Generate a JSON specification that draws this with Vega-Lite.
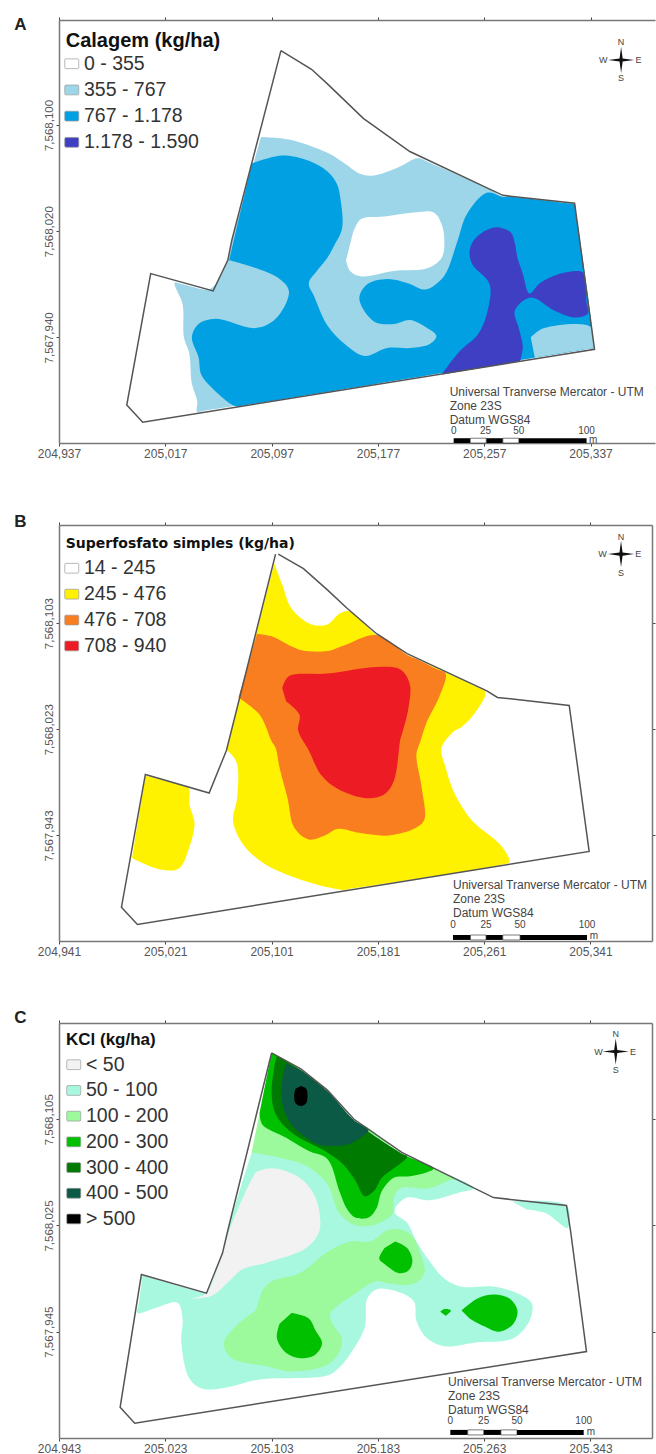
{"$schema":"https://vega.github.io/schema/vega-lite/v6.json","background":"white","padding":{"left":14,"top":16,"right":0,"bottom":0},"bounds":"flush","spacing":82,
"resolve":{"scale":{"fill":"independent"},"legend":{"fill":"independent"}},
"config":{"font":"Liberation Sans","view":{"stroke":null},"axis":{"grid":false,"title":null,"domainColor":"#777","domainWidth":1.5,"tickColor":"#444","tickSize":3,"labelColor":"#555","labelFontSize":12,"labelOverlap":false,"labelFlush":false}},
"datasets":{
"a_edge":[{"x":205104,"y":7568156},{"x":205127,"y":7568142},{"x":205139,"y":7568131},{"x":205166,"y":7568105},{"x":205201,"y":7568080},{"x":205271,"y":7568047},{"x":205325,"y":7568041},{"x":205340,"y":7567931},{"x":205000,"y":7567876},{"x":204988,"y":7567889},{"x":205006,"y":7567988},{"x":205053,"y":7567975},{"x":205064,"y":7567998},{"x":205067,"y":7568013},{"x":205104,"y":7568156}],
"a_zones":[
{"c":"355 - 767","p":2,"x":205089,"y":7568091},{"c":"355 - 767","p":2,"x":205110,"y":7568089},{"c":"355 - 767","p":2,"x":205139,"y":7568079},{"c":"355 - 767","p":2,"x":205152,"y":7568071},{"c":"355 - 767","p":2,"x":205164,"y":7568063},{"c":"355 - 767","p":2,"x":205174,"y":7568062},{"c":"355 - 767","p":2,"x":205192,"y":7568068},{"c":"355 - 767","p":2,"x":205207,"y":7568075},{"c":"355 - 767","p":2,"x":205215,"y":7568072},{"c":"355 - 767","p":2,"x":205262,"y":7568051},{"c":"355 - 767","p":2,"x":205271,"y":7568046},{"c":"355 - 767","p":2,"x":205300,"y":7568043},{"c":"355 - 767","p":2,"x":205320,"y":7568041},{"c":"355 - 767","p":2,"x":205325,"y":7568040},{"c":"355 - 767","p":2,"x":205326,"y":7568034},{"c":"355 - 767","p":2,"x":205339,"y":7567938},{"c":"355 - 767","p":2,"x":205339,"y":7567932},{"c":"355 - 767","p":2,"x":205333,"y":7567931},{"c":"355 - 767","p":2,"x":205048,"y":7567885},{"c":"355 - 767","p":2,"x":205041,"y":7567884},{"c":"355 - 767","p":2,"x":205041,"y":7567892},{"c":"355 - 767","p":2,"x":205037,"y":7567905},{"c":"355 - 767","p":2,"x":205035,"y":7567928},{"c":"355 - 767","p":2,"x":205031,"y":7567940},{"c":"355 - 767","p":2,"x":205030,"y":7567965},{"c":"355 - 767","p":2,"x":205024,"y":7567981},{"c":"355 - 767","p":2,"x":205030,"y":7567980},{"c":"355 - 767","p":2,"x":205049,"y":7567976},{"c":"355 - 767","p":2,"x":205054,"y":7567979},{"c":"355 - 767","p":2,"x":205064,"y":7567998},{"c":"355 - 767","p":2,"x":205067,"y":7568013},
{"c":"767 - 1.178","p":3,"x":205082,"y":7568071},{"c":"767 - 1.178","p":3,"x":205105,"y":7568077},{"c":"767 - 1.178","p":3,"x":205125,"y":7568073},{"c":"767 - 1.178","p":3,"x":205139,"y":7568065},{"c":"767 - 1.178","p":3,"x":205146,"y":7568056},{"c":"767 - 1.178","p":3,"x":205149,"y":7568043},{"c":"767 - 1.178","p":3,"x":205150,"y":7568022},{"c":"767 - 1.178","p":3,"x":205144,"y":7568009},{"c":"767 - 1.178","p":3,"x":205139,"y":7568000},{"c":"767 - 1.178","p":3,"x":205131,"y":7567990},{"c":"767 - 1.178","p":3,"x":205125,"y":7567981},{"c":"767 - 1.178","p":3,"x":205129,"y":7567971},{"c":"767 - 1.178","p":3,"x":205139,"y":7567949},{"c":"767 - 1.178","p":3,"x":205152,"y":7567935},{"c":"767 - 1.178","p":3,"x":205167,"y":7567926},{"c":"767 - 1.178","p":3,"x":205184,"y":7567932},{"c":"767 - 1.178","p":3,"x":205201,"y":7567932},{"c":"767 - 1.178","p":3,"x":205216,"y":7567935},{"c":"767 - 1.178","p":3,"x":205221,"y":7567941},{"c":"767 - 1.178","p":3,"x":205214,"y":7567947},{"c":"767 - 1.178","p":3,"x":205201,"y":7567953},{"c":"767 - 1.178","p":3,"x":205189,"y":7567950},{"c":"767 - 1.178","p":3,"x":205174,"y":7567952},{"c":"767 - 1.178","p":3,"x":205163,"y":7567969},{"c":"767 - 1.178","p":3,"x":205169,"y":7567980},{"c":"767 - 1.178","p":3,"x":205184,"y":7567984},{"c":"767 - 1.178","p":3,"x":205199,"y":7567981},{"c":"767 - 1.178","p":3,"x":205213,"y":7567976},{"c":"767 - 1.178","p":3,"x":205224,"y":7567983},{"c":"767 - 1.178","p":3,"x":205229,"y":7567990},{"c":"767 - 1.178","p":3,"x":205237,"y":7568013},{"c":"767 - 1.178","p":3,"x":205244,"y":7568033},{"c":"767 - 1.178","p":3,"x":205259,"y":7568049},{"c":"767 - 1.178","p":3,"x":205271,"y":7568046},{"c":"767 - 1.178","p":3,"x":205277,"y":7568046},{"c":"767 - 1.178","p":3,"x":205319,"y":7568041},{"c":"767 - 1.178","p":3,"x":205325,"y":7568040},{"c":"767 - 1.178","p":3,"x":205326,"y":7568034},{"c":"767 - 1.178","p":3,"x":205339,"y":7567938},{"c":"767 - 1.178","p":3,"x":205339,"y":7567932},{"c":"767 - 1.178","p":3,"x":205333,"y":7567931},{"c":"767 - 1.178","p":3,"x":205078,"y":7567889},{"c":"767 - 1.178","p":3,"x":205070,"y":7567888},{"c":"767 - 1.178","p":3,"x":205052,"y":7567902},{"c":"767 - 1.178","p":3,"x":205044,"y":7567912},{"c":"767 - 1.178","p":3,"x":205042,"y":7567925},{"c":"767 - 1.178","p":3,"x":205037,"y":7567940},{"c":"767 - 1.178","p":3,"x":205042,"y":7567950},{"c":"767 - 1.178","p":3,"x":205055,"y":7567954},{"c":"767 - 1.178","p":3,"x":205085,"y":7567947},{"c":"767 - 1.178","p":3,"x":205100,"y":7567954},{"c":"767 - 1.178","p":3,"x":205110,"y":7567975},{"c":"767 - 1.178","p":3,"x":205100,"y":7567986},{"c":"767 - 1.178","p":3,"x":205065,"y":7567998},
{"c":"0 - 355","p":4,"x":205158,"y":7568018},{"c":"0 - 355","p":4,"x":205164,"y":7568029},{"c":"0 - 355","p":4,"x":205182,"y":7568031},{"c":"0 - 355","p":4,"x":205204,"y":7568034},{"c":"0 - 355","p":4,"x":205219,"y":7568034},{"c":"0 - 355","p":4,"x":205225,"y":7568025},{"c":"0 - 355","p":4,"x":205227,"y":7568013},{"c":"0 - 355","p":4,"x":205225,"y":7568000},{"c":"0 - 355","p":4,"x":205214,"y":7567992},{"c":"0 - 355","p":4,"x":205189,"y":7567990},{"c":"0 - 355","p":4,"x":205164,"y":7567986},{"c":"0 - 355","p":4,"x":205156,"y":7567990},{"c":"0 - 355","p":4,"x":205153,"y":7567998},
{"c":"355 - 767","p":5,"x":205292,"y":7567940},{"c":"355 - 767","p":5,"x":205302,"y":7567947},{"c":"355 - 767","p":5,"x":205337,"y":7567948},{"c":"355 - 767","p":5,"x":205339,"y":7567937},{"c":"355 - 767","p":5,"x":205339,"y":7567932},{"c":"355 - 767","p":5,"x":205333,"y":7567931},{"c":"355 - 767","p":5,"x":205302,"y":7567926},{"c":"355 - 767","p":5,"x":205295,"y":7567925},
{"c":"1.178 - 1.590","p":6,"x":205225,"y":7567912},{"c":"1.178 - 1.590","p":6,"x":205239,"y":7567930},{"c":"1.178 - 1.590","p":6,"x":205252,"y":7567942},{"c":"1.178 - 1.590","p":6,"x":205259,"y":7567958},{"c":"1.178 - 1.590","p":6,"x":205261,"y":7567980},{"c":"1.178 - 1.590","p":6,"x":205248,"y":7567995},{"c":"1.178 - 1.590","p":6,"x":205246,"y":7568005},{"c":"1.178 - 1.590","p":6,"x":205249,"y":7568013},{"c":"1.178 - 1.590","p":6,"x":205257,"y":7568020},{"c":"1.178 - 1.590","p":6,"x":205267,"y":7568023},{"c":"1.178 - 1.590","p":6,"x":205277,"y":7568019},{"c":"1.178 - 1.590","p":6,"x":205280,"y":7568011},{"c":"1.178 - 1.590","p":6,"x":205282,"y":7568000},{"c":"1.178 - 1.590","p":6,"x":205286,"y":7567988},{"c":"1.178 - 1.590","p":6,"x":205291,"y":7567973},{"c":"1.178 - 1.590","p":6,"x":205299,"y":7567981},{"c":"1.178 - 1.590","p":6,"x":205314,"y":7567988},{"c":"1.178 - 1.590","p":6,"x":205331,"y":7567989},{"c":"1.178 - 1.590","p":6,"x":205333,"y":7567980},{"c":"1.178 - 1.590","p":6,"x":205334,"y":7567966},{"c":"1.178 - 1.590","p":6,"x":205335,"y":7567958},{"c":"1.178 - 1.590","p":6,"x":205325,"y":7567955},{"c":"1.178 - 1.590","p":6,"x":205310,"y":7567960},{"c":"1.178 - 1.590","p":6,"x":205292,"y":7567970},{"c":"1.178 - 1.590","p":6,"x":205280,"y":7567960},{"c":"1.178 - 1.590","p":6,"x":205283,"y":7567947},{"c":"1.178 - 1.590","p":6,"x":205286,"y":7567933},{"c":"1.178 - 1.590","p":6,"x":205284,"y":7567922}
],
"a_letter":[{"t":"A","x":204908,"y":7568175}],
"a_note":[{"t":"Universal Tranverse Mercator - UTM","x":205231,"y":7567899},{"t":"Zone 23S","x":205231,"y":7567888},{"t":"Datum WGS84","x":205231,"y":7567878}],
"a_bar_k":[{"x":205234,"x2":205246.5,"y":7567864,"y2":7567860.4},{"x":205258.5,"x2":205271,"y":7567864,"y2":7567860.4},{"x":205283,"x2":205334,"y":7567864,"y2":7567860.4}],
"a_bar_w":[{"x":205246.5,"x2":205258.5,"y":7567864,"y2":7567860.4},{"x":205271,"x2":205283,"y":7567864,"y2":7567860.4}],
"a_scale":[{"t":"0","x":205234,"y":7567869.5},{"t":"25","x":205258,"y":7567869.5},{"t":"50","x":205283,"y":7567869.5},{"t":"100","x":205334,"y":7567869.5},{"t":"m","x":205339,"y":7567863}],
"a_rose":[{"x":205360,"y":7568149}],
"a_dirs":[{"t":"N","x":205360,"y":7568162.5},{"t":"S","x":205360,"y":7568135.4},{"t":"W","x":205346.6,"y":7568149},{"t":"E","x":205373,"y":7568149}],
"b_edge":[{"x":205106,"y":7568155},{"x":205125,"y":7568144},{"x":205143,"y":7568128},{"x":205158,"y":7568114},{"x":205180,"y":7568095},{"x":205203,"y":7568080},{"x":205263,"y":7568052},{"x":205271,"y":7568047},{"x":205325,"y":7568041},{"x":205340,"y":7567931},{"x":205000,"y":7567876},{"x":204988,"y":7567889},{"x":205006,"y":7567989},{"x":205054,"y":7567975},{"x":205067,"y":7568007},{"x":205104,"y":7568155}],
"b_zones":[
{"c":"245 - 476","p":2,"x":205103,"y":7568148},{"c":"245 - 476","p":2,"x":205109,"y":7568132},{"c":"245 - 476","p":2,"x":205116,"y":7568114},{"c":"245 - 476","p":2,"x":205131,"y":7568102},{"c":"245 - 476","p":2,"x":205143,"y":7568102},{"c":"245 - 476","p":2,"x":205152,"y":7568110},{"c":"245 - 476","p":2,"x":205159,"y":7568112},{"c":"245 - 476","p":2,"x":205180,"y":7568094},{"c":"245 - 476","p":2,"x":205203,"y":7568079},{"c":"245 - 476","p":2,"x":205210,"y":7568076},{"c":"245 - 476","p":2,"x":205255,"y":7568055},{"c":"245 - 476","p":2,"x":205262,"y":7568051},{"c":"245 - 476","p":2,"x":205253,"y":7568034},{"c":"245 - 476","p":2,"x":205243,"y":7568024},{"c":"245 - 476","p":2,"x":205239,"y":7568022},{"c":"245 - 476","p":2,"x":205229,"y":7568009},{"c":"245 - 476","p":2,"x":205232,"y":7567994},{"c":"245 - 476","p":2,"x":205239,"y":7567974},{"c":"245 - 476","p":2,"x":205252,"y":7567954},{"c":"245 - 476","p":2,"x":205274,"y":7567935},{"c":"245 - 476","p":2,"x":205280,"y":7567923},{"c":"245 - 476","p":2,"x":205274,"y":7567921},{"c":"245 - 476","p":2,"x":205161,"y":7567903},{"c":"245 - 476","p":2,"x":205155,"y":7567902},{"c":"245 - 476","p":2,"x":205122,"y":7567910},{"c":"245 - 476","p":2,"x":205095,"y":7567922},{"c":"245 - 476","p":2,"x":205079,"y":7567937},{"c":"245 - 476","p":2,"x":205072,"y":7567954},{"c":"245 - 476","p":2,"x":205075,"y":7567971},{"c":"245 - 476","p":2,"x":205075,"y":7567997},{"c":"245 - 476","p":2,"x":205070,"y":7568005},{"c":"245 - 476","p":2,"x":205067,"y":7568007},
{"c":"245 - 476","p":3,"x":205006,"y":7567988},{"c":"245 - 476","p":3,"x":205010,"y":7567987},{"c":"245 - 476","p":3,"x":205035,"y":7567980},{"c":"245 - 476","p":3,"x":205039,"y":7567978},{"c":"245 - 476","p":3,"x":205039,"y":7567967},{"c":"245 - 476","p":3,"x":205043,"y":7567952},{"c":"245 - 476","p":3,"x":205039,"y":7567934},{"c":"245 - 476","p":3,"x":205031,"y":7567918},{"c":"245 - 476","p":3,"x":205015,"y":7567918},{"c":"245 - 476","p":3,"x":204996,"y":7567926},
{"c":"476 - 708","p":4,"x":205090,"y":7568095},{"c":"476 - 708","p":4,"x":205101,"y":7568093},{"c":"476 - 708","p":4,"x":205122,"y":7568083},{"c":"476 - 708","p":4,"x":205143,"y":7568082},{"c":"476 - 708","p":4,"x":205155,"y":7568086},{"c":"476 - 708","p":4,"x":205180,"y":7568094},{"c":"476 - 708","p":4,"x":205203,"y":7568079},{"c":"476 - 708","p":4,"x":205210,"y":7568076},{"c":"476 - 708","p":4,"x":205226,"y":7568068},{"c":"476 - 708","p":4,"x":205232,"y":7568065},{"c":"476 - 708","p":4,"x":205227,"y":7568047},{"c":"476 - 708","p":4,"x":205218,"y":7568029},{"c":"476 - 708","p":4,"x":205213,"y":7568014},{"c":"476 - 708","p":4,"x":205210,"y":7568004},{"c":"476 - 708","p":4,"x":205214,"y":7567979},{"c":"476 - 708","p":4,"x":205216,"y":7567955},{"c":"476 - 708","p":4,"x":205210,"y":7567949},{"c":"476 - 708","p":4,"x":205189,"y":7567943},{"c":"476 - 708","p":4,"x":205167,"y":7567945},{"c":"476 - 708","p":4,"x":205151,"y":7567948},{"c":"476 - 708","p":4,"x":205141,"y":7567943},{"c":"476 - 708","p":4,"x":205129,"y":7567940},{"c":"476 - 708","p":4,"x":205118,"y":7567949},{"c":"476 - 708","p":4,"x":205113,"y":7567971},{"c":"476 - 708","p":4,"x":205107,"y":7567994},{"c":"476 - 708","p":4,"x":205104,"y":7568009},{"c":"476 - 708","p":4,"x":205101,"y":7568014},{"c":"476 - 708","p":4,"x":205092,"y":7568034},{"c":"476 - 708","p":4,"x":205076,"y":7568047},
{"c":"708 - 940","p":5,"x":205109,"y":7568054},{"c":"708 - 940","p":5,"x":205114,"y":7568063},{"c":"708 - 940","p":5,"x":205143,"y":7568065},{"c":"708 - 940","p":5,"x":205180,"y":7568070},{"c":"708 - 940","p":5,"x":205198,"y":7568068},{"c":"708 - 940","p":5,"x":205205,"y":7568057},{"c":"708 - 940","p":5,"x":205204,"y":7568039},{"c":"708 - 940","p":5,"x":205199,"y":7568019},{"c":"708 - 940","p":5,"x":205198,"y":7568016},{"c":"708 - 940","p":5,"x":205193,"y":7567984},{"c":"708 - 940","p":5,"x":205186,"y":7567974},{"c":"708 - 940","p":5,"x":205173,"y":7567971},{"c":"708 - 940","p":5,"x":205151,"y":7567978},{"c":"708 - 940","p":5,"x":205138,"y":7567989},{"c":"708 - 940","p":5,"x":205129,"y":7568007},{"c":"708 - 940","p":5,"x":205121,"y":7568022},{"c":"708 - 940","p":5,"x":205122,"y":7568034},{"c":"708 - 940","p":5,"x":205112,"y":7568044}
],
"b_letter":[{"t":"B","x":204912,"y":7568179}],
"b_note":[{"t":"Universal Tranverse Mercator - UTM","x":205237.5,"y":7567905.7},{"t":"Zone 23S","x":205237.5,"y":7567895},{"t":"Datum WGS84","x":205237.5,"y":7567884.6}],
"b_bar_k":[{"x":205237.5,"x2":205250.7,"y":7567868,"y2":7567864.3},{"x":205262.4,"x2":205275,"y":7567868,"y2":7567864.3},{"x":205288,"x2":205338.4,"y":7567868,"y2":7567864.3}],
"b_bar_w":[{"x":205250.7,"x2":205262.4,"y":7567868,"y2":7567864.3},{"x":205275,"x2":205288,"y":7567868,"y2":7567864.3}],
"b_scale":[{"t":"0","x":205237.5,"y":7567875.6},{"t":"25","x":205262.4,"y":7567875.6},{"t":"50","x":205288,"y":7567875.6},{"t":"100","x":205338.4,"y":7567875.6},{"t":"m","x":205343.6,"y":7567867.2}],
"b_rose":[{"x":205364,"y":7568155}],
"b_dirs":[{"t":"N","x":205364,"y":7568168},{"t":"S","x":205364,"y":7568141},{"t":"W","x":205350,"y":7568155},{"t":"E","x":205377,"y":7568155}],
"c_edge":[{"x":205103,"y":7568155},{"x":205125,"y":7568143},{"x":205145,"y":7568127},{"x":205165,"y":7568105},{"x":205201,"y":7568080},{"x":205270,"y":7568046},{"x":205325,"y":7568040},{"x":205328,"y":7568021},{"x":205340,"y":7567930},{"x":205000,"y":7567876},{"x":204989,"y":7567888},{"x":205005,"y":7567988},{"x":205054,"y":7567974},{"x":205066,"y":7568004},{"x":205070,"y":7568021},{"x":205103,"y":7568155}],
"c_zones":[
{"c":"50 - 100","p":1,"x":205088,"y":7568080},{"c":"50 - 100","p":1,"x":205070,"y":7568021},{"c":"50 - 100","p":1,"x":205066,"y":7568004},{"c":"50 - 100","p":1,"x":205054,"y":7567975},{"c":"50 - 100","p":1,"x":205050,"y":7567975},{"c":"50 - 100","p":1,"x":205010,"y":7567986},{"c":"50 - 100","p":1,"x":205006,"y":7567987},{"c":"50 - 100","p":1,"x":205005,"y":7567980},{"c":"50 - 100","p":1,"x":205003,"y":7567966},{"c":"50 - 100","p":1,"x":205002,"y":7567959},{"c":"50 - 100","p":1,"x":205016,"y":7567963},{"c":"50 - 100","p":1,"x":205032,"y":7567967},{"c":"50 - 100","p":1,"x":205036,"y":7567955},{"c":"50 - 100","p":1,"x":205035,"y":7567938},{"c":"50 - 100","p":1,"x":205041,"y":7567910},{"c":"50 - 100","p":1,"x":205051,"y":7567902},{"c":"50 - 100","p":1,"x":205069,"y":7567903},{"c":"50 - 100","p":1,"x":205094,"y":7567909},{"c":"50 - 100","p":1,"x":205145,"y":7567912},{"c":"50 - 100","p":1,"x":205154,"y":7567918},{"c":"50 - 100","p":1,"x":205162,"y":7567928},{"c":"50 - 100","p":1,"x":205173,"y":7567948},{"c":"50 - 100","p":1,"x":205175,"y":7567970},{"c":"50 - 100","p":1,"x":205182,"y":7567977},{"c":"50 - 100","p":1,"x":205195,"y":7567976},{"c":"50 - 100","p":1,"x":205210,"y":7567968},{"c":"50 - 100","p":1,"x":205212,"y":7567953},{"c":"50 - 100","p":1,"x":205220,"y":7567940},{"c":"50 - 100","p":1,"x":205233,"y":7567934},{"c":"50 - 100","p":1,"x":205258,"y":7567937},{"c":"50 - 100","p":1,"x":205285,"y":7567940},{"c":"50 - 100","p":1,"x":205297,"y":7567953},{"c":"50 - 100","p":1,"x":205299,"y":7567966},{"c":"50 - 100","p":1,"x":205290,"y":7567973},{"c":"50 - 100","p":1,"x":205270,"y":7567979},{"c":"50 - 100","p":1,"x":205245,"y":7567979},{"c":"50 - 100","p":1,"x":205233,"y":7567985},{"c":"50 - 100","p":1,"x":205222,"y":7567998},{"c":"50 - 100","p":1,"x":205212,"y":7568013},{"c":"50 - 100","p":1,"x":205205,"y":7568027},{"c":"50 - 100","p":1,"x":205196,"y":7568034},{"c":"50 - 100","p":1,"x":205196,"y":7568038},{"c":"50 - 100","p":1,"x":205205,"y":7568046},{"c":"50 - 100","p":1,"x":205222,"y":7568044},{"c":"50 - 100","p":1,"x":205245,"y":7568050},{"c":"50 - 100","p":1,"x":205255,"y":7568053},{"c":"50 - 100","p":1,"x":205201,"y":7568079},{"c":"50 - 100","p":1,"x":205165,"y":7568104},
{"c":"50 - 100","p":2,"x":205284,"y":7568043},{"c":"50 - 100","p":2,"x":205325,"y":7568040},{"c":"50 - 100","p":2,"x":205326,"y":7568023},{"c":"50 - 100","p":2,"x":205318,"y":7568028},{"c":"50 - 100","p":2,"x":205310,"y":7568034},{"c":"50 - 100","p":2,"x":205295,"y":7568037},
{"c":"< 50","p":3,"x":205091,"y":7568065},{"c":"< 50","p":3,"x":205103,"y":7568068},{"c":"< 50","p":3,"x":205124,"y":7568061},{"c":"< 50","p":3,"x":205136,"y":7568046},{"c":"< 50","p":3,"x":205139,"y":7568021},{"c":"< 50","p":3,"x":205129,"y":7568008},{"c":"< 50","p":3,"x":205099,"y":7567997},{"c":"< 50","p":3,"x":205081,"y":7567992},{"c":"< 50","p":3,"x":205071,"y":7567983},{"c":"< 50","p":3,"x":205058,"y":7567972},{"c":"< 50","p":3,"x":205043,"y":7567970},{"c":"< 50","p":3,"x":205054,"y":7567974},{"c":"< 50","p":3,"x":205066,"y":7568004},{"c":"< 50","p":3,"x":205071,"y":7568021},{"c":"< 50","p":3,"x":205078,"y":7568038},{"c":"< 50","p":3,"x":205086,"y":7568056},
{"c":"100 - 200","p":4,"x":205096,"y":7567976},{"c":"100 - 200","p":4,"x":205103,"y":7567983},{"c":"100 - 200","p":4,"x":205124,"y":7567989},{"c":"100 - 200","p":4,"x":205145,"y":7568005},{"c":"100 - 200","p":4,"x":205162,"y":7568013},{"c":"100 - 200","p":4,"x":205177,"y":7568013},{"c":"100 - 200","p":4,"x":205192,"y":7568022},{"c":"100 - 200","p":4,"x":205207,"y":7568019},{"c":"100 - 200","p":4,"x":205216,"y":7568001},{"c":"100 - 200","p":4,"x":205218,"y":7567989},{"c":"100 - 200","p":4,"x":205210,"y":7567981},{"c":"100 - 200","p":4,"x":205192,"y":7567981},{"c":"100 - 200","p":4,"x":205182,"y":7567983},{"c":"100 - 200","p":4,"x":205165,"y":7567973},{"c":"100 - 200","p":4,"x":205147,"y":7567958},{"c":"100 - 200","p":4,"x":205150,"y":7567949},{"c":"100 - 200","p":4,"x":205156,"y":7567940},{"c":"100 - 200","p":4,"x":205154,"y":7567930},{"c":"100 - 200","p":4,"x":205145,"y":7567920},{"c":"100 - 200","p":4,"x":205118,"y":7567915},{"c":"100 - 200","p":4,"x":205099,"y":7567919},{"c":"100 - 200","p":4,"x":205073,"y":7567925},{"c":"100 - 200","p":4,"x":205067,"y":7567936},{"c":"100 - 200","p":4,"x":205076,"y":7567949},{"c":"100 - 200","p":4,"x":205091,"y":7567961},
{"c":"100 - 200","p":5,"x":205094,"y":7568110},{"c":"100 - 200","p":5,"x":205165,"y":7568104},{"c":"100 - 200","p":5,"x":205201,"y":7568079},{"c":"100 - 200","p":5,"x":205241,"y":7568060},{"c":"100 - 200","p":5,"x":205237,"y":7568059},{"c":"100 - 200","p":5,"x":205222,"y":7568053},{"c":"100 - 200","p":5,"x":205200,"y":7568053},{"c":"100 - 200","p":5,"x":205195,"y":7568046},{"c":"100 - 200","p":5,"x":205194,"y":7568034},{"c":"100 - 200","p":5,"x":205182,"y":7568026},{"c":"100 - 200","p":5,"x":205167,"y":7568025},{"c":"100 - 200","p":5,"x":205154,"y":7568034},{"c":"100 - 200","p":5,"x":205145,"y":7568056},{"c":"100 - 200","p":5,"x":205129,"y":7568070},{"c":"100 - 200","p":5,"x":205109,"y":7568076},{"c":"100 - 200","p":5,"x":205088,"y":7568080},
{"c":"200 - 300","p":6,"x":205103,"y":7568155},{"c":"200 - 300","p":6,"x":205125,"y":7568142},{"c":"200 - 300","p":6,"x":205145,"y":7568126},{"c":"200 - 300","p":6,"x":205165,"y":7568104},{"c":"200 - 300","p":6,"x":205201,"y":7568079},{"c":"200 - 300","p":6,"x":205225,"y":7568068},{"c":"200 - 300","p":6,"x":205220,"y":7568065},{"c":"200 - 300","p":6,"x":205207,"y":7568062},{"c":"200 - 300","p":6,"x":205195,"y":7568061},{"c":"200 - 300","p":6,"x":205186,"y":7568051},{"c":"200 - 300","p":6,"x":205182,"y":7568038},{"c":"200 - 300","p":6,"x":205176,"y":7568031},{"c":"200 - 300","p":6,"x":205166,"y":7568031},{"c":"200 - 300","p":6,"x":205160,"y":7568037},{"c":"200 - 300","p":6,"x":205154,"y":7568051},{"c":"200 - 300","p":6,"x":205145,"y":7568075},{"c":"200 - 300","p":6,"x":205131,"y":7568081},{"c":"200 - 300","p":6,"x":205114,"y":7568091},{"c":"200 - 300","p":6,"x":205096,"y":7568101},{"c":"200 - 300","p":6,"x":205094,"y":7568110},
{"c":"200 - 300","p":7,"x":205118,"y":7567959},{"c":"200 - 300","p":7,"x":205131,"y":7567955},{"c":"200 - 300","p":7,"x":205136,"y":7567946},{"c":"200 - 300","p":7,"x":205141,"y":7567936},{"c":"200 - 300","p":7,"x":205135,"y":7567927},{"c":"200 - 300","p":7,"x":205125,"y":7567925},{"c":"200 - 300","p":7,"x":205114,"y":7567929},{"c":"200 - 300","p":7,"x":205107,"y":7567940},{"c":"200 - 300","p":7,"x":205109,"y":7567951},
{"c":"200 - 300","p":8,"x":205196,"y":7568013},{"c":"200 - 300","p":8,"x":205205,"y":7568008},{"c":"200 - 300","p":8,"x":205209,"y":7567998},{"c":"200 - 300","p":8,"x":205206,"y":7567991},{"c":"200 - 300","p":8,"x":205199,"y":7567989},{"c":"200 - 300","p":8,"x":205188,"y":7567996},{"c":"200 - 300","p":8,"x":205184,"y":7568000},{"c":"200 - 300","p":8,"x":205188,"y":7568008},
{"c":"200 - 300","p":9,"x":205246,"y":7567961},{"c":"200 - 300","p":9,"x":205258,"y":7567970},{"c":"200 - 300","p":9,"x":205270,"y":7567973},{"c":"200 - 300","p":9,"x":205282,"y":7567970},{"c":"200 - 300","p":9,"x":205288,"y":7567961},{"c":"200 - 300","p":9,"x":205285,"y":7567951},{"c":"200 - 300","p":9,"x":205274,"y":7567945},{"c":"200 - 300","p":9,"x":205263,"y":7567949},{"c":"200 - 300","p":9,"x":205252,"y":7567955},
{"c":"200 - 300","p":10,"x":205230,"y":7567960},{"c":"200 - 300","p":10,"x":205233,"y":7567962},{"c":"200 - 300","p":10,"x":205238,"y":7567961},{"c":"200 - 300","p":10,"x":205234,"y":7567957},
{"c":"300 - 400","p":11,"x":205107,"y":7568153},{"c":"300 - 400","p":11,"x":205105,"y":7568144},{"c":"300 - 400","p":11,"x":205103,"y":7568124},{"c":"300 - 400","p":11,"x":205106,"y":7568109},{"c":"300 - 400","p":11,"x":205118,"y":7568095},{"c":"300 - 400","p":11,"x":205145,"y":7568080},{"c":"300 - 400","p":11,"x":205157,"y":7568071},{"c":"300 - 400","p":11,"x":205166,"y":7568059},{"c":"300 - 400","p":11,"x":205173,"y":7568047},{"c":"300 - 400","p":11,"x":205180,"y":7568051},{"c":"300 - 400","p":11,"x":205186,"y":7568061},{"c":"300 - 400","p":11,"x":205195,"y":7568068},{"c":"300 - 400","p":11,"x":205205,"y":7568077},{"c":"300 - 400","p":11,"x":205201,"y":7568079},{"c":"300 - 400","p":11,"x":205165,"y":7568104},{"c":"300 - 400","p":11,"x":205145,"y":7568126},{"c":"300 - 400","p":11,"x":205125,"y":7568142},
{"c":"400 - 500","p":12,"x":205114,"y":7568147},{"c":"400 - 500","p":12,"x":205111,"y":7568134},{"c":"400 - 500","p":12,"x":205111,"y":7568117},{"c":"400 - 500","p":12,"x":205118,"y":7568101},{"c":"400 - 500","p":12,"x":205136,"y":7568087},{"c":"400 - 500","p":12,"x":205145,"y":7568085},{"c":"400 - 500","p":12,"x":205160,"y":7568086},{"c":"400 - 500","p":12,"x":205170,"y":7568091},{"c":"400 - 500","p":12,"x":205176,"y":7568097},{"c":"400 - 500","p":12,"x":205165,"y":7568104},{"c":"400 - 500","p":12,"x":205145,"y":7568126},{"c":"400 - 500","p":12,"x":205125,"y":7568142},
{"c":"> 500","p":13,"x":205125,"y":7568130},{"c":"> 500","p":13,"x":205129,"y":7568128},{"c":"> 500","p":13,"x":205130,"y":7568123},{"c":"> 500","p":13,"x":205129,"y":7568117},{"c":"> 500","p":13,"x":205125,"y":7568115},{"c":"> 500","p":13,"x":205121,"y":7568117},{"c":"> 500","p":13,"x":205120,"y":7568123},{"c":"> 500","p":13,"x":205121,"y":7568128}
],
"c_letter":[{"t":"C","x":204914,"y":7568181}],
"c_note":[{"t":"Universal Tranverse  Mercator - UTM","x":205235.8,"y":7567907},{"t":"Zone 23S","x":205235.8,"y":7567896.5},{"t":"Datum WGS84","x":205235.8,"y":7567886}],
"c_bar_k":[{"x":205237.5,"x2":205250.6,"y":7567871,"y2":7567867.2},{"x":205262.6,"x2":205275.6,"y":7567871,"y2":7567867.2},{"x":205287.7,"x2":205337.9,"y":7567871,"y2":7567867.2}],
"c_bar_w":[{"x":205250.6,"x2":205262.6,"y":7567871,"y2":7567867.2},{"x":205275.6,"x2":205287.7,"y":7567871,"y2":7567867.2}],
"c_scale":[{"t":"0","x":205237.5,"y":7567877.7},{"t":"25","x":205262.6,"y":7567877.7},{"t":"50","x":205287.7,"y":7567877.7},{"t":"100","x":205337.9,"y":7567877.7},{"t":"m","x":205343.4,"y":7567869.4}],
"c_rose":[{"x":205362,"y":7568156}],
"c_dirs":[{"t":"N","x":205362,"y":7568169},{"t":"S","x":205362,"y":7568142},{"t":"W","x":205349,"y":7568156},{"t":"E","x":205375,"y":7568156}]
},
"vconcat":[
{"width":596,"height":423,
"encoding":{"x":{"field":"x","type":"quantitative","scale":{"domain":[204937,205385.5],"nice":false,"zero":false},"axis":null},"y":{"field":"y","type":"quantitative","scale":{"domain":[7567860.4,7568179.1],"nice":false,"zero":false},"axis":null}},
"resolve":{"axis":{"x":"independent","y":"independent"}},
"layer":[
{"data":{"name":"a_zones"},"transform":[{"window":[{"op":"row_number","as":"i"}]}],"mark":{"type":"line","strokeWidth":0,"interpolate":"catmull-rom"},
"encoding":{"x":{"field":"x","type":"quantitative","scale":{"domain":[204937,205385.5],"nice":false,"zero":false},"axis":{"orient":"bottom","values":[204937,205017,205097,205177,205257,205337],"format":",d","title":null}},
"y":{"field":"y","type":"quantitative","scale":{"domain":[7567860.4,7568179.1],"nice":false,"zero":false},"axis":{"orient":"left","values":[7567940,7568020,7568100],"format":",d","labelAngle":-90,"labelFontSize":11.5,"title":null}},
"detail":{"field":"p"},"order":{"field":"i","type":"quantitative"},
"fill":{"field":"c","type":"nominal","scale":{"domain":["0 - 355","355 - 767","767 - 1.178","1.178 - 1.590"],"range":["#ffffff","#9dd6e8","#00a0e3","#3f3fc4"]},
"legend":{"orient":"none","legendX":6.7,"legendY":11,"padding":0,"title":"Calagem (kg/ha)","titleFontSize":20,"titleFontWeight":"bold","titleColor":"#111","titleLimit":400,"titlePadding":3,"labelFontSize":19.5,"labelColor":"#333","labelLimit":300,"labelOffset":2.5,"rowPadding":5.2,"symbolOffset":-3.7,"symbolType":"M-0.85,-0.7 L0.85,-0.7 Q1,-0.7 1,-0.5 L1,0.5 Q1,0.7 0.85,0.7 L-0.85,0.7 Q-1,0.7 -1,0.5 L-1,-0.5 Q-1,-0.7 -0.85,-0.7 Z","symbolSize":196,"symbolStrokeColor":"#999","symbolStrokeWidth":0.7}}}},
{"data":{"name":"a_edge"},"transform":[{"window":[{"op":"row_number","as":"i"}]}],"mark":{"type":"line","stroke":"#555","strokeWidth":1.5},
"encoding":{"x":{"field":"x","type":"quantitative","scale":{"domain":[204937,205385.5],"nice":false,"zero":false},"axis":{"orient":"top","values":[204937,205017,205097,205177,205257,205337],"labels":false,"title":null}},"order":{"field":"i","type":"quantitative"}}},
{"data":{"name":"a_bar_k"},"mark":{"type":"rect","color":"black"},"encoding":{"x2":{"field":"x2"},"y2":{"field":"y2"}}},
{"data":{"name":"a_bar_w"},"mark":{"type":"rect","fill":"white","stroke":"#222","strokeWidth":0.6},"encoding":{"x2":{"field":"x2"},"y2":{"field":"y2"}}},
{"data":{"name":"a_letter"},"mark":{"type":"text","fontSize":17,"fontWeight":"bold","color":"#222"},"encoding":{"text":{"field":"t"}}},
{"data":{"name":"a_note"},"mark":{"type":"text","fontSize":12,"color":"#444","align":"left"},"encoding":{"text":{"field":"t"}}},
{"data":{"name":"a_scale"},"mark":{"type":"text","fontSize":10,"color":"#444"},"encoding":{"text":{"field":"t"}}},
{"data":{"name":"a_dirs"},"mark":{"type":"text","fontSize":9,"color":"#444"},"encoding":{"text":{"field":"t"}}},
{"data":{"name":"a_rose"},"mark":{"type":"point","filled":true,"color":"#111","opacity":1,"size":676,"shape":"M0,-1 L0.12,-0.12 L1,0 L0.12,0.12 L0,1 L-0.12,0.12 L-1,0 L-0.12,-0.12 Z"}}
]},
{"width":593,"height":416,
"encoding":{"x":{"field":"x","type":"quantitative","scale":{"domain":[204941,205387.3],"nice":false,"zero":false},"axis":null},"y":{"field":"y","type":"quantitative","scale":{"domain":[7567863.5,7568176.9],"nice":false,"zero":false},"axis":null}},
"resolve":{"axis":{"x":"independent","y":"independent"}},
"layer":[
{"data":{"name":"b_zones"},"transform":[{"window":[{"op":"row_number","as":"i"}]}],"mark":{"type":"line","strokeWidth":0,"interpolate":"catmull-rom"},
"encoding":{"x":{"field":"x","type":"quantitative","scale":{"domain":[204941,205387.3],"nice":false,"zero":false},"axis":{"orient":"bottom","values":[204941,205021,205101,205181,205261,205341],"format":",d","title":null}},
"y":{"field":"y","type":"quantitative","scale":{"domain":[7567863.5,7568176.9],"nice":false,"zero":false},"axis":{"orient":"left","values":[7567943,7568023,7568103],"format":",d","labelAngle":-90,"labelFontSize":11.5,"title":null}},
"detail":{"field":"p"},"order":{"field":"i","type":"quantitative"},
"fill":{"field":"c","type":"nominal","scale":{"domain":["14 - 245","245 - 476","476 - 708","708 - 940"],"range":["#ffffff","#fff200","#f97e20","#ed1c24"]},
"legend":{"orient":"none","legendX":6.7,"legendY":12,"padding":0,"title":"Superfosfato simples (kg/ha)","titleFont":"DejaVu Sans","titleFontSize":14,"titleFontWeight":"bold","titleColor":"#111","titleLimit":400,"titlePadding":7.5,"labelFontSize":19.5,"labelColor":"#333","labelLimit":300,"labelOffset":2.5,"rowPadding":4.9,"symbolOffset":-3.7,"symbolType":"M-0.85,-0.7 L0.85,-0.7 Q1,-0.7 1,-0.5 L1,0.5 Q1,0.7 0.85,0.7 L-0.85,0.7 Q-1,0.7 -1,0.5 L-1,-0.5 Q-1,-0.7 -0.85,-0.7 Z","symbolSize":196,"symbolStrokeColor":"#999","symbolStrokeWidth":0.7}}}},
{"data":{"name":"b_edge"},"transform":[{"window":[{"op":"row_number","as":"i"}]}],"mark":{"type":"line","stroke":"#555","strokeWidth":1.5},
"encoding":{"x":{"field":"x","type":"quantitative","scale":{"domain":[204941,205387.3],"nice":false,"zero":false},"axis":{"orient":"top","values":[204941,205021,205101,205181,205261,205341],"labels":false,"title":null}},
"y":{"field":"y","type":"quantitative","scale":{"domain":[7567863.5,7568176.9],"nice":false,"zero":false},"axis":{"orient":"right","values":[7567943,7568023,7568103],"labels":false,"title":null}},"order":{"field":"i","type":"quantitative"}}},
{"data":{"name":"b_bar_k"},"mark":{"type":"rect","color":"black"},"encoding":{"x2":{"field":"x2"},"y2":{"field":"y2"}}},
{"data":{"name":"b_bar_w"},"mark":{"type":"rect","fill":"white","stroke":"#222","strokeWidth":0.6},"encoding":{"x2":{"field":"x2"},"y2":{"field":"y2"}}},
{"data":{"name":"b_letter"},"mark":{"type":"text","fontSize":17,"fontWeight":"bold","color":"#222"},"encoding":{"text":{"field":"t"}}},
{"data":{"name":"b_note"},"mark":{"type":"text","fontSize":12,"color":"#444","align":"left"},"encoding":{"text":{"field":"t"}}},
{"data":{"name":"b_scale"},"mark":{"type":"text","fontSize":10,"color":"#444"},"encoding":{"text":{"field":"t"}}},
{"data":{"name":"b_dirs"},"mark":{"type":"text","fontSize":9,"color":"#444"},"encoding":{"text":{"field":"t"}}},
{"data":{"name":"b_rose"},"mark":{"type":"point","filled":true,"color":"#111","opacity":1,"size":676,"shape":"M0,-1 L0.12,-0.12 L1,0 L0.12,0.12 L0,1 L-0.12,0.12 L-1,0 L-0.12,-0.12 Z"}}
]},
{"width":593,"height":415,
"encoding":{"x":{"field":"x","type":"quantitative","scale":{"domain":[204943,205389.3],"nice":false,"zero":false},"axis":null},"y":{"field":"y","type":"quantitative","scale":{"domain":[7567864.9,7568177.5],"nice":false,"zero":false},"axis":null}},
"resolve":{"axis":{"x":"independent","y":"independent"}},
"layer":[
{"data":{"name":"c_zones"},"transform":[{"window":[{"op":"row_number","as":"i"}]}],"mark":{"type":"line","strokeWidth":0,"interpolate":"catmull-rom"},
"encoding":{"x":{"field":"x","type":"quantitative","scale":{"domain":[204943,205389.3],"nice":false,"zero":false},"axis":{"orient":"bottom","values":[204943,205023,205103,205183,205263,205343],"labelExpr":"replace(format(datum.value,','),',','.')","title":null}},
"y":{"field":"y","type":"quantitative","scale":{"domain":[7567864.9,7568177.5],"nice":false,"zero":false},"axis":{"orient":"left","values":[7567945,7568025,7568105],"format":",d","labelAngle":-90,"labelFontSize":11.5,"title":null}},
"detail":{"field":"p"},"order":{"field":"i","type":"quantitative"},
"fill":{"field":"c","type":"nominal","scale":{"domain":["< 50","50 - 100","100 - 200","200 - 300","300 - 400","400 - 500","> 500"],"range":["#f2f2f2","#a8f8e0","#9cf99c","#00c000","#007a00","#0a5a45","#000000"]},
"legend":{"orient":"none","legendX":7,"legendY":9,"padding":0,"title":"KCl (kg/ha)","titleFontSize":17,"titleFontWeight":"bold","titleColor":"#111","titleLimit":400,"titlePadding":6,"labelFontSize":19.5,"labelColor":"#333","labelLimit":300,"labelOffset":2.5,"rowPadding":4.7,"symbolOffset":-2,"symbolType":"M-0.85,-0.7 L0.85,-0.7 Q1,-0.7 1,-0.5 L1,0.5 Q1,0.7 0.85,0.7 L-0.85,0.7 Q-1,0.7 -1,0.5 L-1,-0.5 Q-1,-0.7 -0.85,-0.7 Z","symbolSize":196,"symbolStrokeColor":"#999","symbolStrokeWidth":0.7}}}},
{"data":{"name":"c_edge"},"transform":[{"window":[{"op":"row_number","as":"i"}]}],"mark":{"type":"line","stroke":"#555","strokeWidth":1.5},
"encoding":{"x":{"field":"x","type":"quantitative","scale":{"domain":[204943,205389.3],"nice":false,"zero":false},"axis":{"orient":"top","values":[204943,205023,205103,205183,205263,205343],"labels":false,"title":null}},
"y":{"field":"y","type":"quantitative","scale":{"domain":[7567864.9,7568177.5],"nice":false,"zero":false},"axis":{"orient":"right","values":[7567945,7568025,7568105],"labels":false,"title":null}},"order":{"field":"i","type":"quantitative"}}},
{"data":{"name":"c_bar_k"},"mark":{"type":"rect","color":"black"},"encoding":{"x2":{"field":"x2"},"y2":{"field":"y2"}}},
{"data":{"name":"c_bar_w"},"mark":{"type":"rect","fill":"white","stroke":"#222","strokeWidth":0.6},"encoding":{"x2":{"field":"x2"},"y2":{"field":"y2"}}},
{"data":{"name":"c_letter"},"mark":{"type":"text","fontSize":17,"fontWeight":"bold","color":"#222"},"encoding":{"text":{"field":"t"}}},
{"data":{"name":"c_note"},"mark":{"type":"text","fontSize":12,"color":"#444","align":"left"},"encoding":{"text":{"field":"t"}}},
{"data":{"name":"c_scale"},"mark":{"type":"text","fontSize":10,"color":"#444"},"encoding":{"text":{"field":"t"}}},
{"data":{"name":"c_dirs"},"mark":{"type":"text","fontSize":9,"color":"#444"},"encoding":{"text":{"field":"t"}}},
{"data":{"name":"c_rose"},"mark":{"type":"point","filled":true,"color":"#111","opacity":1,"size":676,"shape":"M0,-1 L0.12,-0.12 L1,0 L0.12,0.12 L0,1 L-0.12,0.12 L-1,0 L-0.12,-0.12 Z"}}
]}
]}
